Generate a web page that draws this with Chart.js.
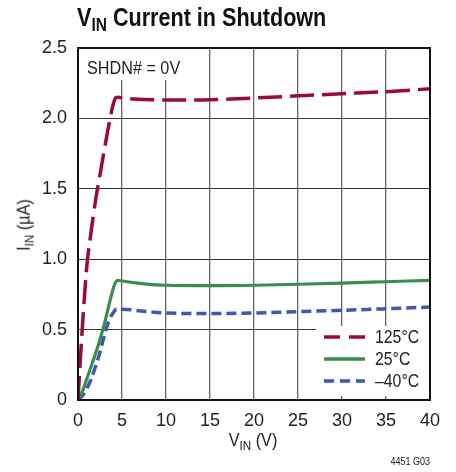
<!DOCTYPE html>
<html>
<head>
<meta charset="utf-8">
<script src="https://cdn.jsdelivr.net/npm/chart.js@4/dist/chart.umd.min.js"></script>
<style>
  html, body { margin: 0; padding: 0; background: #fff; }
  #wrap { position: relative; width: 456px; height: 472px; font-family: "Liberation Sans", Arial, sans-serif; color: #222; }
  canvas { position: absolute; left: 0; top: 0; }
  .title { position: absolute; left: 77px; top: 2px; font-size: 26px; font-weight: bold; color: #111; white-space: nowrap; transform: scaleX(0.83); transform-origin: 0 0; }
  .title sub, .ax sub { font-size: 0.72em; vertical-align: -0.28em; }
  .ax { position: absolute; font-size: 18px; white-space: nowrap; color: #222; }
  .xt { left: 253px; top: 430px; transform: translateX(-50%) scaleX(0.9); }
  .yt { left: 25px; top: 225px; transform: translate(-50%, -50%) rotate(-90deg) scaleX(0.9); }
  .note { position: absolute; right: 26px; top: 456px; font-size: 10px; color: #222; transform: scaleX(0.9); transform-origin: 100% 0; }
</style>
</head>
<body>
<div id="wrap">
  <canvas id="c" width="456" height="472"></canvas>
  <div class="title">V<sub>IN</sub> Current in Shutdown</div>
  <div class="ax xt">V<sub>IN</sub> (V)</div>
  <div class="ax yt">I<sub>IN</sub> (µA)</div>
  <div class="note">4451 G03</div>
</div>
<script>
// Data
const vin125 = [0, 0.25, 0.5, 0.75, 1, 1.5, 2, 2.5, 3, 3.5, 4, 4.3, 4.6, 5, 7.5, 10, 12.5, 15, 20, 25, 30, 35, 40];
const iin125 = [0, 0.27, 0.52, 0.75, 0.95, 1.2, 1.42, 1.6, 1.78, 1.95, 2.1, 2.148, 2.15, 2.145, 2.135, 2.13, 2.13, 2.132, 2.145, 2.16, 2.175, 2.19, 2.21];
const vin25 = [0, 0.5, 1, 1.5, 2, 2.5, 3, 3.5, 4, 4.3, 4.6, 5, 7.5, 10, 15, 20, 25, 30, 35, 40];
const iin25 = [0, 0.06, 0.15, 0.24, 0.33, 0.43, 0.54, 0.67, 0.79, 0.84, 0.85, 0.845, 0.825, 0.815, 0.812, 0.815, 0.822, 0.83, 0.84, 0.85];
const vinM40 = [0, 0.5, 1, 1.5, 2, 2.5, 3, 3.5, 4, 4.4, 5, 7.5, 10, 15, 20, 25, 30, 35, 40];
const iinM40 = [0, 0.03, 0.08, 0.15, 0.24, 0.34, 0.46, 0.56, 0.62, 0.645, 0.645, 0.63, 0.618, 0.614, 0.618, 0.628, 0.637, 0.648, 0.66];
const seriesLabels = ['125°C', '25°C', '–40°C'];
const xTickLabels = ['0', '5', '10', '15', '20', '25', '30', '35', '40'];
const yTickLabels = ['0', '0.5', '1.0', '1.5', '2.0', '2.5'];
const annotationText = 'SHDN# = 0V';

const FONT = '"Liberation Sans", Arial, sans-serif';
const colors = ['#9a0b38', '#3a8d4c', '#3d58ae'];
const dashes = [[24, 8], [], [10, 5]];
const legendDashes = [[16, 9], [], [10, 6]];

function pts(xs, ys) { return xs.map((x, i) => ({ x: x, y: ys[i] })); }

function narrowText(ctx, text, x, y, sx) {
  ctx.save();
  ctx.translate(x, y);
  ctx.scale(sx, 1);
  ctx.fillText(text, 0, 0);
  ctx.restore();
}

const overlay = {
  id: 'overlay',
  beforeDatasetsDraw(chart) {
    const { ctx, chartArea: a } = chart;
    ctx.save();
    // annotation box
    ctx.fillStyle = '#fff';
    ctx.fillRect(a.left + 1, a.top + 1, 112, 31);
    ctx.fillStyle = '#222';
    ctx.font = '18px ' + FONT;
    ctx.textBaseline = 'middle';
    ctx.textAlign = 'left';
    narrowText(ctx, annotationText, a.left + 9, a.top + 21, 0.9);
    // legend box
    const lx = 316, ly = 326, lw = a.right - lx, lh = 70;
    ctx.fillStyle = '#fff';
    ctx.fillRect(lx, ly, lw, lh);
    const rows = [337, 359, 381];
    for (let i = 0; i < 3; i++) {
      ctx.beginPath();
      ctx.strokeStyle = colors[i];
      ctx.lineWidth = 3.5;
      ctx.setLineDash(legendDashes[i]);
      ctx.moveTo(324, rows[i]);
      ctx.lineTo(365, rows[i]);
      ctx.stroke();
      ctx.setLineDash([]);
      ctx.fillStyle = '#222';
      narrowText(ctx, seriesLabels[i], 375, rows[i] + 1, 0.88);
    }
    ctx.restore();
  },
  afterDraw(chart) {
    const { ctx, chartArea: a } = chart;
    ctx.save();
    ctx.strokeStyle = '#111';
    ctx.lineWidth = 2;
    ctx.strokeRect(a.left, a.top, a.right - a.left, a.bottom - a.top);
    ctx.restore();
  }
};

const common = { fill: false, pointRadius: 0, borderWidth: 3.5, cubicInterpolationMode: 'monotone' };

new Chart(document.getElementById('c'), {
  type: 'line',
  data: {
    datasets: [
      Object.assign({ label: seriesLabels[0], data: pts(vin125, iin125), borderColor: colors[0], borderDash: dashes[0] }, common),
      Object.assign({ label: seriesLabels[1], data: pts(vin25, iin25), borderColor: colors[1], borderDash: dashes[1] }, common, { borderWidth: 3.2 }),
      Object.assign({ label: seriesLabels[2], data: pts(vinM40, iinM40), borderColor: colors[2], borderDash: dashes[2] }, common)
    ]
  },
  options: {
    responsive: false,
    animation: false,
    devicePixelRatio: 1,
    layout: { padding: { left: 0, top: 48, right: 26, bottom: 0 } },
    plugins: { legend: { display: false }, tooltip: { enabled: false } },
    scales: {
      x: {
        type: 'linear', min: 0, max: 40,
        afterFit(s) { s.height = 72; },
        grid: { color: '#666', lineWidth: 1.3, drawTicks: false },
        border: { display: false },
        ticks: {
          stepSize: 5, padding: 10, color: '#222',
          font: { family: FONT, size: 18 },
          callback: (v) => xTickLabels[Math.round(v / 5)]
        }
      },
      y: {
        min: 0, max: 2.5,
        afterFit(s) { s.width = 78; },
        grid: { color: '#333', lineWidth: 1, drawTicks: false },
        border: { display: false },
        ticks: {
          stepSize: 0.5, padding: 11, color: '#222',
          font: { family: FONT, size: 18 },
          callback: (v) => yTickLabels[Math.round(v / 0.5)]
        }
      }
    }
  },
  plugins: [overlay]
});
</script>
</body>
</html>
